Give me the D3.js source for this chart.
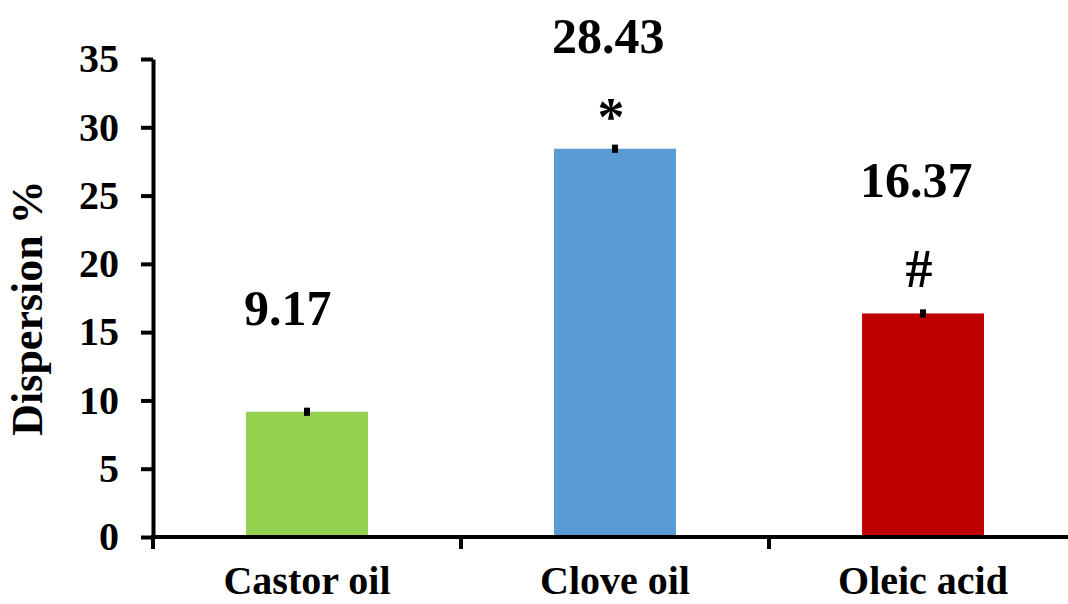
<!DOCTYPE html>
<html>
<head>
<meta charset="utf-8">
<script src="https://cdn.jsdelivr.net/npm/d3@7/dist/d3.min.js"></script>
<style>
  html, body { margin: 0; padding: 0; background: #fff; }
  svg { display: block; }
  text { font-family: "Liberation Serif", "Times New Roman", serif; font-weight: bold; fill: #000; }
</style>
</head>
<body>
<svg id="chart" width="1068" height="604"></svg>
<script>
// Dispersion of the three formulations
const categories = ["Castor oil", "Clove oil", "Oleic acid"];
const values = [9.17, 28.43, 16.37];
const errors = [0.3, 0.3, 0.3];
const markers = ["", "*", "#"];
const colors = ["#92D050", "#5B9BD5", "#C00000"];
const yTicks = [0, 5, 10, 15, 20, 25, 30, 35];
const yTitle = "Dispersion %";

const svg = d3.select("#chart");

const axisX = 153, plotRight = 1077, baseY = 537, topY = 59;

const y = d3.scaleLinear().domain([0, 35]).range([baseY, topY]);
const xBand = d3.scaleBand().domain(categories).range([axisX, plotRight]).padding(0);
const xBar = d3.scaleBand().domain(categories).range([axisX, plotRight])
  .paddingInner(0.604).paddingOuter(0.302);

// bars
svg.append("g").selectAll("rect").data(categories).join("rect")
  .attr("x", d => xBar(d))
  .attr("width", xBar.bandwidth())
  .attr("y", (d, i) => y(values[i]))
  .attr("height", (d, i) => y(0) - y(values[i]))
  .attr("fill", (d, i) => colors[i]);

// error bars
svg.append("g").selectAll("line").data(categories).join("line")
  .attr("x1", d => xBar(d) + xBar.bandwidth() / 2)
  .attr("x2", d => xBar(d) + xBar.bandwidth() / 2)
  .attr("y1", (d, i) => y(values[i] - errors[i]))
  .attr("y2", (d, i) => y(values[i] + errors[i]))
  .attr("stroke", "#000").attr("stroke-width", 6);

// y axis
const yAxis = d3.axisLeft(y).tickValues(yTicks).tickSize(12).tickSizeOuter(0).tickPadding(22);
const gy = svg.append("g").attr("transform", `translate(${axisX},0)`).call(yAxis);
gy.select(".domain").attr("stroke", "#000").attr("stroke-width", 4);
gy.selectAll(".tick line").attr("stroke", "#000").attr("stroke-width", 4);
gy.selectAll(".tick text").style("font-size", "40px").style("font-family", "Liberation Serif").style("font-weight", "bold");

// x axis line and boundary ticks
svg.append("line")
  .attr("x1", axisX - 2).attr("x2", 1068).attr("y1", baseY).attr("y2", baseY)
  .attr("stroke", "#000").attr("stroke-width", 4);
svg.append("g").selectAll("line").data(categories).join("line")
  .attr("x1", d => xBand(d)).attr("x2", d => xBand(d))
  .attr("y1", baseY).attr("y2", baseY + 12)
  .attr("stroke", "#000").attr("stroke-width", 4);

// category labels
svg.append("g").selectAll("text").data(categories).join("text")
  .attr("x", d => xBand(d) + xBand.bandwidth() / 2)
  .attr("y", 594)
  .attr("text-anchor", "middle")
  .style("font-size", "40px")
  .text(d => d);

// value labels, left-aligned with each bar
const labelLift = [87, 96, 116];
svg.append("g").selectAll("text").data(categories).join("text")
  .attr("x", d => xBar(d) - 2)
  .attr("y", (d, i) => y(values[i]) - labelLift[i])
  .attr("text-anchor", "start")
  .style("font-size", "50px")
  .text((d, i) => values[i].toFixed(2));

// significance markers
const markerLift = [0, 14, 26];
svg.append("g").selectAll("text").data(categories).join("text")
  .attr("x", d => xBar(d) + xBar.bandwidth() / 2 - 4)
  .attr("y", (d, i) => y(values[i]) - markerLift[i])
  .attr("text-anchor", "middle")
  .style("font-size", "54px")
  .text((d, i) => markers[i]);

// y axis title
svg.append("text")
  .attr("transform", "translate(42, 308) rotate(-90)")
  .attr("text-anchor", "middle")
  .style("font-size", "44px")
  .text(yTitle);
</script>
</body>
</html>
